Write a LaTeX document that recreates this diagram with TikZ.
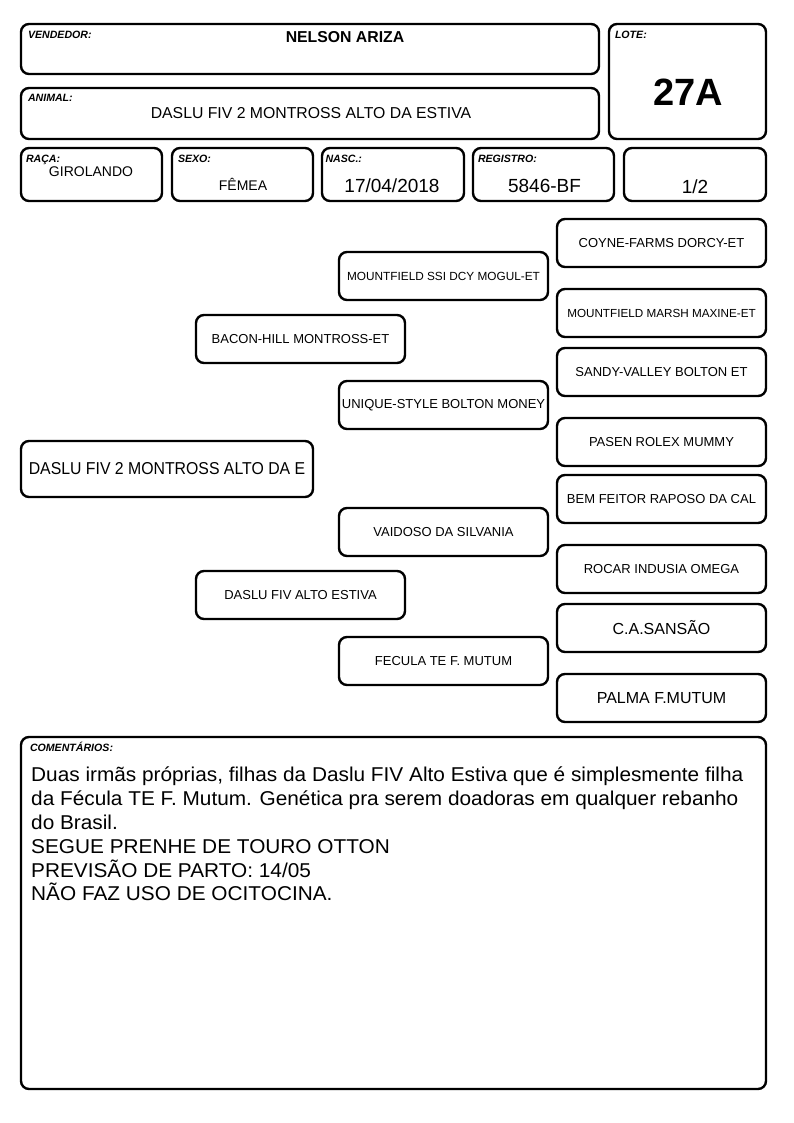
\documentclass[tikz,border=0pt]{standalone}
\usepackage{fontspec}
\setmainfont{Liberation Sans}
\begin{document}
\begin{tikzpicture}[x=1pt,y=-1pt,
  box/.style={draw=black,line width=2.4pt,rounded corners=8pt,inner sep=0pt,fill=white},
  lbl/.style={anchor=base west,inner sep=0pt,font=\fontsize{10.6}{12}\selectfont\bfseries\itshape},
  ped/.style={box,minimum width=209pt,minimum height=48pt,font=\fontsize{13}{15}\selectfont},
  txt/.style={inner sep=0pt}]
\useasboundingbox (0,0) rectangle (794,1123);
% header boxes
\node[box,minimum width=578pt,minimum height=50pt] (vend) at (310,49) {};
\node[box,minimum width=578pt,minimum height=51pt] (anim) at (310,113.5) {};
\node[box,minimum width=157pt,minimum height=115pt] (lote) at (687.5,81.5) {};
\node[box,minimum width=141pt,minimum height=53pt] (raca) at (91.5,174.5) {};
\node[box,minimum width=141pt,minimum height=53pt] (sexo) at (242.5,174.5) {};
\node[box,minimum width=142pt,minimum height=53pt] (nasc) at (393,174.5) {};
\node[box,minimum width=141pt,minimum height=53pt] (regi) at (543.5,174.5) {};
\node[box,minimum width=142pt,minimum height=53pt] (frac) at (695,174.5) {};
% labels
\node[lbl] (lvend) at ([xshift=8pt,yshift=-16pt]vend.north west) {VENDEDOR:};
\node[lbl] (lanim) at ([xshift=8pt,yshift=-15pt]anim.north west) {ANIMAL:};
\node[lbl] (llote) at ([xshift=7pt,yshift=-16pt]lote.north west) {LOTE:};
\node[lbl] (lraca) at ([xshift=6pt,yshift=-15.5pt]raca.north west) {RAÇA:};
\node[lbl] (lsexo) at ([xshift=7pt,yshift=-15.5pt]sexo.north west) {SEXO:};
\node[lbl] (lnasc) at ([xshift=4.5pt,yshift=-15.5pt]nasc.north west) {NASC.:};
\node[lbl] (lregi) at ([xshift=6pt,yshift=-15.5pt]regi.north west) {REGISTRO:};
% values
\node[txt,font=\fontsize{15.8}{18}\selectfont\bfseries] (tvend) at (345,37) {NELSON ARIZA};
\node[txt,font=\fontsize{15.8}{18}\selectfont] (tanim) at (311,113) {DASLU FIV 2 MONTROSS ALTO DA ESTIVA};
\node[txt,font=\fontsize{38}{40}\selectfont\bfseries] (tlote) at (688,92) {27A};
\node[txt,font=\fontsize{14}{16}\selectfont] (traca) at (91,172) {GIROLANDO};
\node[txt,font=\fontsize{14}{16}\selectfont] (tsexo) at (243,184) {FÊMEA};
\node[txt,font=\fontsize{19}{21}\selectfont] (tnasc) at (392,186) {17/04/2018};
\node[txt,font=\fontsize{19}{21}\selectfont] (tregi) at (544.5,186) {5846-BF};
\node[txt,font=\fontsize{19}{21}\selectfont] (tfrac) at (695,187) {1/2};
% pedigree
\node[box,minimum width=292pt,minimum height=56pt,font=\fontsize{17.2}{19}\selectfont] (p0) at (167,469) {\scalebox{0.92}[1]{DASLU FIV 2 MONTROSS ALTO DA E}};
\node[ped] (p1) at (300.5,339) {BACON-HILL MONTROSS-ET};
\node[ped] (p2) at (300.5,595) {DASLU FIV ALTO ESTIVA};
\node[ped,font=\fontsize{11.8}{14}\selectfont] (p11) at (443.5,276) {MOUNTFIELD SSI DCY MOGUL-ET};
\node[ped] (p12) at (443.5,405) {UNIQUE-STYLE BOLTON MONEY};
\node[ped] (p21) at (443.5,532) {VAIDOSO DA SILVANIA};
\node[ped] (p22) at (443.5,661) {FECULA TE F. MUTUM};
\node[ped] (p111) at (661.5,243) {COYNE-FARMS DORCY-ET};
\node[ped,font=\fontsize{11.7}{14}\selectfont] (p112) at (661.5,313) {MOUNTFIELD MARSH MAXINE-ET};
\node[ped] (p121) at (661.5,372) {SANDY-VALLEY BOLTON ET};
\node[ped] (p122) at (661.5,442) {PASEN ROLEX MUMMY};
\node[ped] (p211) at (661.5,499) {BEM FEITOR RAPOSO DA CAL};
\node[ped] (p212) at (661.5,569) {ROCAR INDUSIA OMEGA};
\node[ped,font=\fontsize{16}{18}\selectfont] (p221) at (661.5,628) {C.A.SANSÃO};
\node[ped,font=\fontsize{16}{18}\selectfont] (p222) at (661.5,698) {PALMA F.MUTUM};
% comments
\node[box,minimum width=745pt,minimum height=352pt] (com) at (393.5,913) {};
\node[lbl] (lcom) at ([xshift=10pt,yshift=-16pt]com.north west) {COMENTÁRIOS:};
\node[anchor=north west,inner sep=0pt,align=left,font=\fontsize{20}{23.8}\selectfont] (tcom) at (31,767) {\scalebox{1.04}[1]{Duas irmãs próprias, filhas da Daslu FIV Alto Estiva que é simplesmente filha}\\\scalebox{1.04}[1]{da Fécula TE F. Mutum. Genética pra serem doadoras em qualquer rebanho}\\\scalebox{1.04}[1]{do Brasil.}\\\scalebox{1.04}[1]{SEGUE PRENHE DE TOURO OTTON}\\\scalebox{1.04}[1]{PREVISÃO DE PARTO: 14/05}\\\scalebox{1.04}[1]{NÃO FAZ USO DE OCITOCINA.}};
\end{tikzpicture}
\end{document}
